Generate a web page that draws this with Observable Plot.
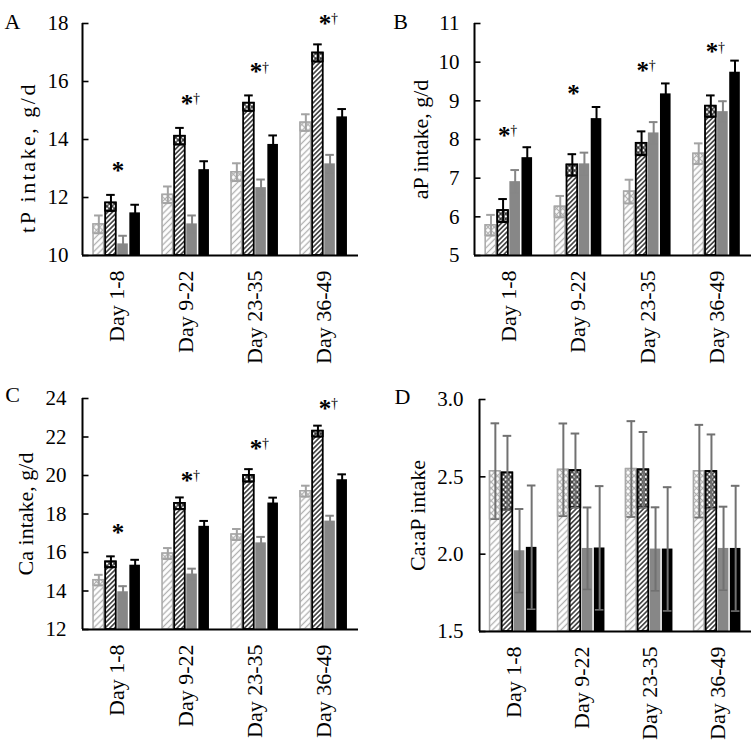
<!DOCTYPE html>
<html><head><meta charset="utf-8">
<script src="https://cdn.jsdelivr.net/npm/d3@7"></script>
<script src="https://cdn.jsdelivr.net/npm/@observablehq/plot@0.6"></script>
<style>
body{margin:0;background:#fff;font-family:"Liberation Serif",serif;}
#wrap{position:relative;width:752px;height:742px;overflow:hidden;background:#fff;}
.panel{position:absolute;}
.panel svg text{font-family:"Liberation Serif",serif;}
</style></head>
<body>
<svg width="0" height="0" style="position:absolute">
<defs>
<pattern id="hatchLight" patternUnits="userSpaceOnUse" width="4.4" height="4.4" patternTransform="rotate(45)">
 <rect width="4.4" height="4.4" fill="#fff"/>
 <line x1="2.2" y1="0" x2="2.2" y2="4.4" stroke="#b0b0b0" stroke-width="1.3"/>
</pattern>
<pattern id="hatchDark" patternUnits="userSpaceOnUse" width="3.4" height="3.4" patternTransform="rotate(45)">
 <rect width="3.4" height="3.4" fill="#fff"/>
 <line x1="1.7" y1="0" x2="1.7" y2="3.4" stroke="#111" stroke-width="1.3"/>
</pattern>
<pattern id="crossLight" patternUnits="userSpaceOnUse" width="4.4" height="4.4" patternTransform="rotate(45)">
 <rect width="4.4" height="4.4" fill="#fff"/>
 <line x1="2.2" y1="0" x2="2.2" y2="4.4" stroke="#b0b0b0" stroke-width="1.2"/>
 <line x1="0" y1="2.2" x2="4.4" y2="2.2" stroke="#b0b0b0" stroke-width="1.2"/>
</pattern>
<pattern id="crossDark" patternUnits="userSpaceOnUse" width="3.6" height="3.6" patternTransform="rotate(45)">
 <rect width="3.6" height="3.6" fill="#fff"/>
 <line x1="1.8" y1="0" x2="1.8" y2="3.6" stroke="#111" stroke-width="1.1"/>
 <line x1="0" y1="1.8" x2="3.6" y2="1.8" stroke="#111" stroke-width="1.1"/>
</pattern>
</defs></svg>
<div id="wrap"></div>
<script>
// ---- data ----
const periods = ["Day 1-8", "Day 9-22", "Day 23-35", "Day 36-49"];
const seriesKeys = ["light", "hatched", "gray", "black"];

// Panel A: tP intake, g/d (rows = series, columns = periods)
const tpMean = [[11.07, 12.09, 12.87, 14.58], [11.81, 14.11, 15.25, 16.98], [10.40, 11.09, 12.34, 13.16], [11.47, 12.96, 13.83, 14.78]];
const tpSE   = [[0.31, 0.29, 0.31, 0.29], [0.28, 0.29, 0.27, 0.30], [0.28, 0.29, 0.28, 0.31], [0.28, 0.29, 0.31, 0.27]];
const tpTicks = [10, 12, 14, 16, 18];
const tpNoteY = [13.10, 15.40, 16.49, 18.16];
const tpNote  = ["*", "*†", "*†", "*†"];

// Panel B: aP intake, g/d
const apMean = [[5.78, 6.26, 6.65, 7.63], [6.16, 7.34, 7.90, 8.86], [6.91, 7.37, 8.17, 8.72], [7.53, 8.54, 9.18, 9.74]];
const apSE   = [[0.27, 0.28, 0.31, 0.27], [0.30, 0.28, 0.31, 0.28], [0.30, 0.29, 0.28, 0.27], [0.27, 0.30, 0.27, 0.30]];
const apTicks = [5, 6, 7, 8, 9, 10, 11];
const apNoteY = [8.23, 9.31, 9.91, 10.39];
const apNote  = ["*†", "*", "*†", "*†"];

// Panel C: Ca intake, g/d
const caMean = [[14.56, 15.94, 16.93, 19.18], [15.51, 18.55, 20.00, 22.30], [13.96, 14.88, 16.50, 17.63], [15.34, 17.36, 18.57, 19.78]];
const caSE   = [[0.28, 0.29, 0.29, 0.29], [0.29, 0.31, 0.33, 0.29], [0.29, 0.28, 0.31, 0.28], [0.28, 0.28, 0.28, 0.28]];
const caTicks = [12, 14, 16, 18, 20, 22, 24];
const caNoteY = [17.27, 19.99, 21.64, 23.74];
const caNote  = ["*", "*†", "*†", "*†"];

// Panel D: Ca:aP intake
const ratioMean = [[2.536, 2.545, 2.550, 2.536], [2.525, 2.540, 2.545, 2.534], [2.022, 2.037, 2.033, 2.037], [2.044, 2.040, 2.033, 2.037]];
const ratioSE   = [[0.31, 0.30, 0.31, 0.30], [0.24, 0.24, 0.245, 0.24], [0.27, 0.265, 0.27, 0.27], [0.40, 0.40, 0.40, 0.405]];
const ratioTicks = [1.5, 2.0, 2.5, 3.0];

// ---- styles ----
const barFill = ["url(#hatchLight)", "url(#hatchDark)", "#878787", "#000"];
const barStroke = ["#a8a8a8", "#000", "none", "none"];
const barStrokeW = [1.5, 1.8, 0, 0];
const crossFill = ["url(#crossLight)", "url(#crossDark)"];
const errColorsABC = ["#a3a3a3", "#000", "#868686", "#000"];
const errColorsD = ["#717171", "#717171", "#717171", "#717171"];
const FONT = "'Liberation Serif', serif";

function panel(cfg) {
  const {W, H, ml, mr, mt, mb, domain, ticks, fmt, mean, se, label, letter,
         noteY, note, noteDx, errColors, tickPad, labelDx, labelDy, labelSpacing, letterDx, letterDy} = cfg;
  const unit = (W - ml - mr) / periods.length;
  const pitch = 12.1 / unit, bw = 10.6 / unit, capHalf = 4.3 / unit, tickLen = 6.5 / unit;
  const rows = [];
  seriesKeys.forEach((s, si) => periods.forEach((p, pi) => rows.push({
    s, si, pi, v: mean[si][pi], e: se[si][pi], xc: pi + 0.5 + (si - 1.5) * pitch, ec: errColors[si]
  })));
  const marks = [];
  seriesKeys.forEach((s, si) => {
    const r = rows.filter(d => d.si === si);
    marks.push(Plot.rect(r, {x1: d => d.xc - bw / 2, x2: d => d.xc + bw / 2, y1: () => domain[0], y2: "v",
      fill: barFill[si], stroke: barStroke[si], strokeWidth: barStrokeW[si]}));
    if (si < 2) {
      marks.push(Plot.rect(r, {x1: d => d.xc - bw / 2, x2: d => d.xc + bw / 2, y1: d => d.v - d.e, y2: "v",
        fill: crossFill[si], stroke: barStroke[si], strokeWidth: barStrokeW[si]}));
    }
  });
  marks.push(Plot.ruleX(rows, {x: "xc", y1: d => d.v - d.e, y2: d => d.v + d.e, stroke: "ec", strokeWidth: 2}));
  marks.push(Plot.ruleY(rows, {y: d => d.v + d.e, x1: d => d.xc - capHalf, x2: d => d.xc + capHalf, stroke: "ec", strokeWidth: 2}));
  marks.push(Plot.ruleY(rows, {y: d => d.v - d.e, x1: d => d.xc - capHalf, x2: d => d.xc + capHalf, stroke: "ec", strokeWidth: 1.6}));
  // axes lines & inward ticks
  marks.push(Plot.ruleX([0], {y1: domain[0], y2: domain[1], stroke: "#000", strokeWidth: 2}));
  marks.push(Plot.ruleY([domain[0]], {x1: 0, x2: periods.length, stroke: "#000", strokeWidth: 2}));
  marks.push(Plot.ruleY(ticks, {y: d => d, x1: 0, x2: tickLen, stroke: "#000", strokeWidth: 1.6}));
  marks.push(Plot.axisY({ticks, tickFormat: fmt, tickSize: 0, tickPadding: tickPad, fontSize: 21, fontFamily: FONT, label: null}));
  marks.push(Plot.axisX({ticks: periods.map((p, i) => i + 0.5), tickFormat: t => periods[Math.round(t - 0.5)],
    tickRotate: -90, tickSize: 0, tickPadding: 15, fontSize: 22, fontFamily: FONT, label: null}));
  // annotations
  if (note) {
    const nrows = note.map((t, i) => ({i, y: noteY[i], t}));
    marks.push(Plot.text(nrows, {x: d => d.i + 0.5, y: "y", text: () => "*", dx: noteDx, dy: 5,
      fontSize: 25, fontWeight: "bold", fontFamily: FONT, textAnchor: "middle", lineAnchor: "middle"}));
    marks.push(Plot.text(nrows.filter(d => d.t.includes("†")), {x: d => d.i + 0.5, y: "y", text: () => "†",
      dx: noteDx + 9.5, dy: 0, fontSize: 14, fontFamily: FONT, fill: "#000", textAnchor: "middle", lineAnchor: "middle"}));
  }
  // y label and panel letter
  marks.push(Plot.text([label], {frameAnchor: "left", text: d => d, rotate: -90, dx: labelDx, dy: labelDy,
    fontSize: 22, fontFamily: FONT, textAnchor: "middle", lineAnchor: "middle", className: "ylab"}));
  marks.push(Plot.text([letter], {frameAnchor: "top-left", text: d => d, dx: letterDx, dy: letterDy,
    fontSize: 22, fontFamily: FONT, textAnchor: "middle", lineAnchor: "middle"}));
  const svg = Plot.plot({
    width: W, height: H, marginLeft: ml, marginRight: mr, marginTop: mt, marginBottom: mb,
    x: {domain: [0, periods.length], axis: null},
    y: {domain, axis: null},
    color: {type: "identity"},
    style: {fontFamily: FONT, fontSize: "21px", color: "#000", background: "transparent", overflow: "visible"},
    marks
  });
  if (labelSpacing) d3.select(svg).selectAll(".ylab text").attr("letter-spacing", labelSpacing);
  return svg;
}

const wrap = document.getElementById("wrap");
function place(svg, left, top) {
  const d = document.createElement("div");
  d.className = "panel"; d.style.left = left + "px"; d.style.top = top + "px";
  d.appendChild(svg); wrap.appendChild(d);
}

place(panel({W: 376, H: 370, ml: 82, mr: 18, mt: 23, mb: 115, domain: [10, 18], ticks: tpTicks, fmt: d3.format("d"),
  mean: tpMean, se: tpSE, label: "tP intake, g/d", letter: "A", noteY: tpNoteY, note: tpNote, noteDx: 1,
  errColors: errColorsABC, tickPad: 14, labelDx: -55, labelDy: 18, labelSpacing: 2.5, letterDx: -70, letterDy: -2}), 0, 0);

place(panel({W: 376, H: 370, ml: 98, mr: 1, mt: 23, mb: 115, domain: [5, 11], ticks: apTicks, fmt: d3.format("d"),
  mean: apMean, se: apSE, label: "aP intake, g/d", letter: "B", noteY: apNoteY, note: apNote, noteDx: -5,
  errColors: errColorsABC, tickPad: 15, labelDx: -54, labelDy: 0, labelSpacing: 0, letterDx: -74, letterDy: -2}), 376, 0);

place(panel({W: 376, H: 372, ml: 82, mr: 18, mt: 28, mb: 113, domain: [12, 24], ticks: caTicks, fmt: d3.format("d"),
  mean: caMean, se: caSE, label: "Ca intake, g/d", letter: "C", noteY: caNoteY, note: caNote, noteDx: 1,
  errColors: errColorsABC, tickPad: 16, labelDx: -57, labelDy: 0, labelSpacing: 0, letterDx: -70, letterDy: -4}), 0, 370);

place(panel({W: 376, H: 372, ml: 103, mr: 1, mt: 29, mb: 111, domain: [1.5, 3.0], ticks: ratioTicks, fmt: d3.format(".1f"),
  mean: ratioMean, se: ratioSE, label: "Ca:aP intake", letter: "D", noteY: null, note: null, noteDx: 0,
  errColors: errColorsD, tickPad: 16, labelDx: -62, labelDy: 0, labelSpacing: 0, letterDx: -77, letterDy: -3}), 376, 370);
</script>
</body></html>
